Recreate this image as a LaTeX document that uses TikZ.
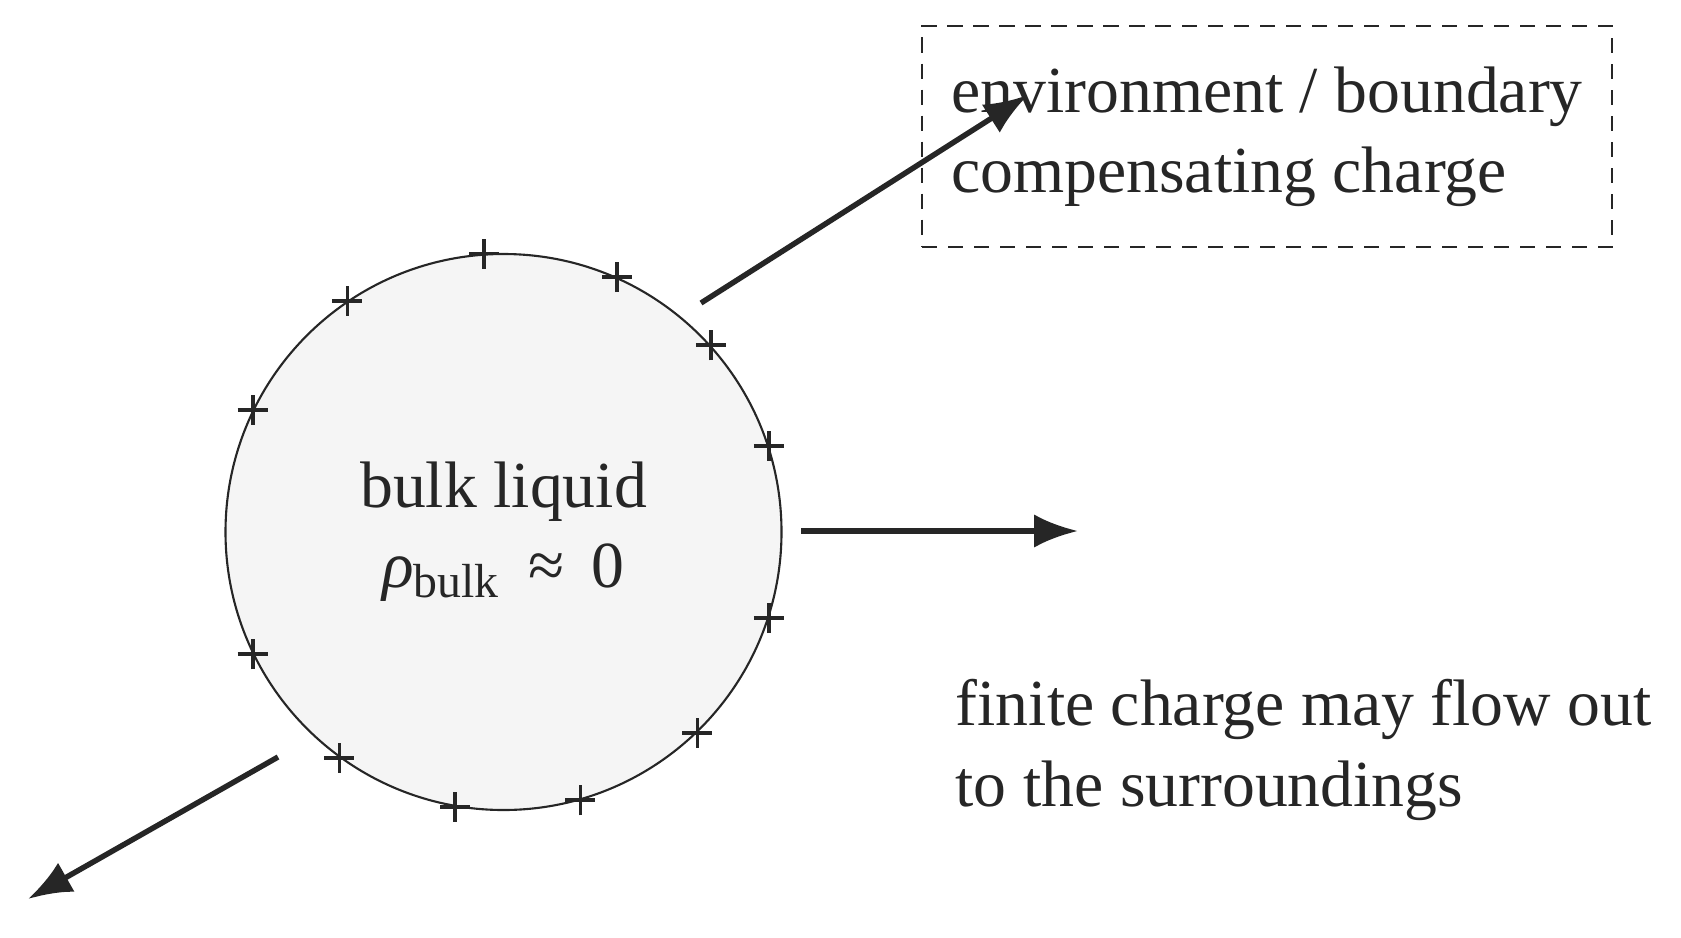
\documentclass[tikz,border=0pt]{standalone}
\usepackage{fontspec}
\setmainfont{Liberation Serif}
\usetikzlibrary{arrows.meta, positioning}
\definecolor{ink}{HTML}{262626}
\definecolor{bulkgray}{HTML}{F5F5F5}
\tikzstyle{drop} = [circle, draw=ink, fill=bulkgray, line width=0.6pt, minimum size=5.56cm, inner sep=0pt, align=center]
\tikzstyle{envbox} = [draw=ink, line width=0.6pt, dash pattern=on 4.3pt off 3.1pt, minimum width=6.90cm, minimum height=2.21cm, align=left]
\tikzstyle{flow} = [->, draw=ink, line width=1.55pt]
\tikzstyle{charge} = [draw=ink, line width=1.05pt]
\newcommand{\lowsub}[1]{\raisebox{-0.1cm}{\fontsize{13.6}{13.6}\selectfont #1}}

\begin{document}
\begin{tikzpicture}[>={Latex[length=12.5pt,width=9.5pt]}, font=\fontsize{18.7}{22.8}\selectfont, text=ink]
    \useasboundingbox (0,0) rectangle (16.81,9.37);
    \node[drop] (bulk) at (5.035,4.05) {bulk liquid\\{\itshape ρ}\lowsub{bulk}\hspace{0.3cm}≈\hspace{0.27cm}0};
    \node[envbox] (env) at (12.67,8.005) {environment / boundary\\compensating charge};
    \node[anchor=base west, align=left, inner sep=0pt] (note) at (9.55,1.31) {finite charge may flow out\\to the surroundings};
    \foreach \a in {18,42,66,94,124,154,206,234,260,286,314,342}
        \draw[charge] (bulk.\a) +(-0.15,0) -- +(0.15,0) +(0,-0.15) -- +(0,0.15);
    \coordinate (upstart) at (7.01,6.34);
    \coordinate (uptip) at (10.28,8.42);
    \coordinate (rightstart) at (8.01,4.06);
    \coordinate (righttip) at (10.78,4.06);
    \coordinate (downstart) at (2.78,1.80);
    \coordinate (downtip) at (0.28,0.38);
    \draw[flow] (upstart) -- (uptip);
    \draw[flow] (rightstart) -- (righttip);
    \draw[flow] (downstart) -- (downtip);
\end{tikzpicture}
\end{document}
